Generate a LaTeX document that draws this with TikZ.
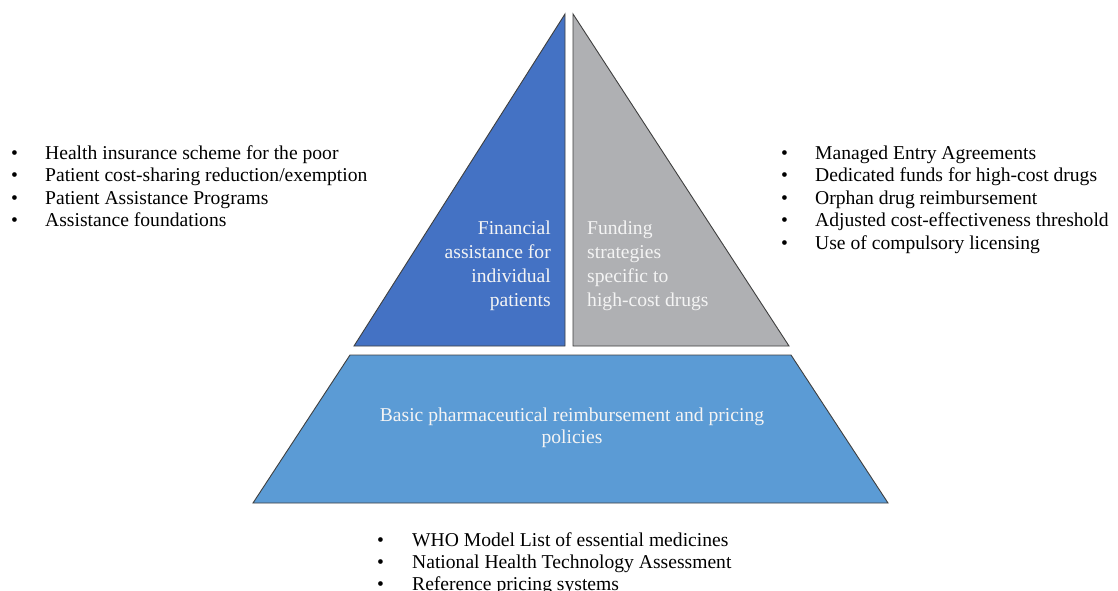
\documentclass[tikz,border=0pt]{standalone}
\usepackage{fontspec}
\setmainfont{Liberation Serif}
\definecolor{blueA}{HTML}{4472C4}
\definecolor{grayA}{HTML}{AFB0B3}
\definecolor{blueB}{HTML}{5B9BD5}
\definecolor{edgec}{HTML}{3F3F3F}
\definecolor{txtw}{HTML}{F4F4F4}
\tikzset{
  piece/.style={draw=edgec, line width=0.9pt, line join=miter},
  listtext/.style={inner sep=0pt, text=black, font=\fontsize{19.6}{22.5}\selectfont},
  intext/.style={inner sep=0pt, text=txtw, font=\fontsize{19.6}{24}\selectfont},
}
\begin{document}
\begin{tikzpicture}[x=1pt,y=-1pt]
\useasboundingbox (0,0) rectangle (1118,591);
\fill[white] (0,0) rectangle (1118,591);
% pyramid pieces
\draw[piece, fill=blueA] (565,14) -- (565,346) -- (354,346) -- cycle;
\draw[piece, fill=grayA] (573,14) -- (789,346) -- (573,346) -- cycle;
\draw[piece, fill=blueB] (350,355) -- (791,355) -- (888,503) -- (253,503) -- cycle;
% texts inside
\node[intext, anchor=base east] (fin) at (551,234)
  {\begin{tabular}[t]{@{}r@{}}Financial\\assistance for\\individual\\patients\end{tabular}};
\node[intext, anchor=base west] (fund) at (587,234)
  {\begin{tabular}[t]{@{}l@{}}Funding\\strategies\\specific to\\high-cost drugs\end{tabular}};
\node[intext, anchor=base, font=\fontsize{19.6}{22}\selectfont] (basic) at (572,421)
  {\begin{tabular}[t]{@{}c@{}}Basic pharmaceutical reimbursement and pricing\\policies\end{tabular}};
% lists
\node[listtext, anchor=base west] (leftlist) at (11,159)
  {\begin{tabular}[t]{@{}p{34pt}@{}l@{}}
  \textbullet & Health insurance scheme for the poor\\
  \textbullet & Patient cost-sharing reduction/exemption\\
  \textbullet & Patient Assistance Programs\\
  \textbullet & Assistance foundations
  \end{tabular}};
\node[listtext, anchor=base west] (rightlist) at (781,159)
  {\begin{tabular}[t]{@{}p{34pt}@{}l@{}}
  \textbullet & Managed Entry Agreements\\
  \textbullet & Dedicated funds for high-cost drugs\\
  \textbullet & Orphan drug reimbursement\\
  \textbullet & Adjusted cost-effectiveness threshold\\
  \textbullet & Use of compulsory licensing
  \end{tabular}};
\node[listtext, anchor=base west, font=\fontsize{19.6}{22}\selectfont] (botlist) at (377,546)
  {\begin{tabular}[t]{@{}p{35pt}@{}l@{}}
  \textbullet & WHO Model List of essential medicines\\
  \textbullet & National Health Technology Assessment\\
  \textbullet & Reference pricing systems
  \end{tabular}};
\end{tikzpicture}
\end{document}
